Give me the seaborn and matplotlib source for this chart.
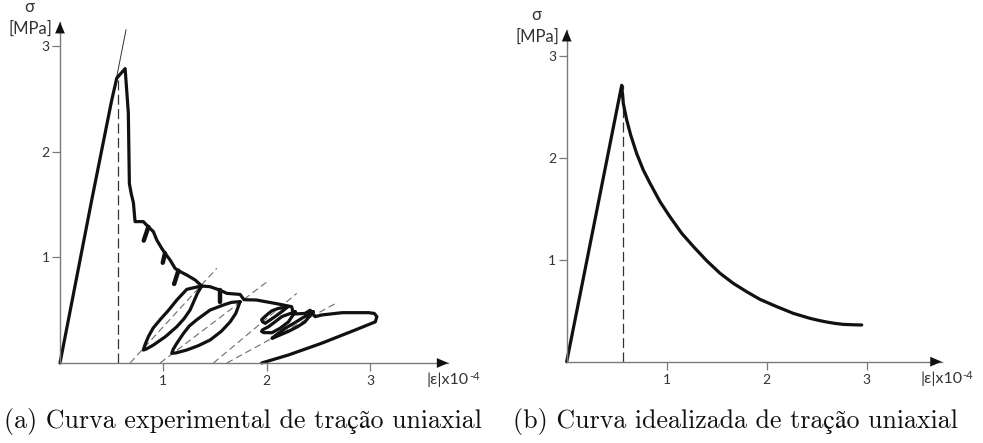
import numpy as np
import matplotlib
matplotlib.use("Agg")
import matplotlib.pyplot as plt
import seaborn as sns

# ---------------- data ----------------
# (a) experimental curve: main envelope path
main_x = [0.0, 0.307, 0.50, 0.549, 0.63, 0.661, 0.671, 0.69, 0.71, 0.726, 0.806, 0.855,
          0.903, 0.936, 0.984, 1.016, 1.065, 1.113, 1.145, 1.226, 1.307, 1.371,
          1.452, 1.549, 1.614, 1.742, 1.78, 1.90, 2.113, 2.24, 2.26, 2.37, 2.42,
          2.468, 2.53, 2.73, 2.985, 3.04, 3.065, 3.05, 2.856, 2.53, 2.21, 1.95]
main_y = [0.0, 1.545, 2.49, 2.70, 2.79, 2.37, 1.70, 1.60, 1.52, 1.34, 1.34, 1.29,
          1.245, 1.166, 1.087, 1.04, 0.976, 0.897, 0.875, 0.834, 0.787, 0.73,
          0.723, 0.69, 0.66, 0.65, 0.60, 0.597, 0.559, 0.534, 0.464, 0.47, 0.50,
          0.439, 0.455, 0.477, 0.477, 0.47, 0.44, 0.39, 0.313, 0.187, 0.076, 0.0]

# small unloading hooks on the softening branch
hook_x0 = [0.855, 1.016, 1.145, 1.549]
hook_y0 = [1.29, 1.04, 0.875, 0.69]
hook_x1 = [0.810, 0.994, 1.104, 1.549]
hook_y1 = [1.16, 0.95, 0.749, 0.58]

# unloading / reloading loops
loop1_x = [1.371, 1.30, 1.226, 1.13, 1.05, 0.968, 0.90, 0.855, 0.823, 0.806, 0.83, 0.903,
           1.02, 1.13, 1.20, 1.258, 1.329, 1.371]
loop1_y = [0.73, 0.715, 0.698, 0.597, 0.50, 0.41, 0.33, 0.25, 0.175, 0.123, 0.13, 0.17,
           0.25, 0.344, 0.42, 0.502, 0.66, 0.73]
loop2_x = [1.742, 1.66, 1.581, 1.452, 1.323, 1.25, 1.194, 1.13, 1.095, 1.081, 1.12, 1.226,
           1.34, 1.452, 1.56, 1.646, 1.70, 1.742]
loop2_y = [0.581, 0.575, 0.55, 0.502, 0.41, 0.35, 0.28, 0.187, 0.13, 0.092, 0.095, 0.123,
           0.165, 0.218, 0.30, 0.39, 0.47, 0.581]
loopA_x = [2.20, 2.11, 2.05, 2.017, 1.97, 1.95, 1.96, 1.985, 2.08, 2.15, 2.20]
loopA_y = [0.53, 0.517, 0.495, 0.47, 0.43, 0.41, 0.39, 0.376, 0.44, 0.49, 0.53]
loopB_x = [2.275, 2.146, 2.08, 2.017, 1.96, 1.95, 1.97, 2.05, 2.13, 2.21, 2.275]
loopB_y = [0.486, 0.44, 0.39, 0.344, 0.315, 0.30, 0.288, 0.287, 0.33, 0.39, 0.486]
loopC_x = [2.45, 2.34, 2.26, 2.178, 2.09, 2.05, 2.08, 2.21, 2.30, 2.37, 2.45]
loopC_y = [0.486, 0.424, 0.375, 0.329, 0.265, 0.234, 0.245, 0.30, 0.345, 0.39, 0.486]

# dashed unloading lines (start on the strain axis, end up-right)
dash_x0 = [0.678, 0.968, 1.484, 1.614]
dash_x1 = [1.517, 2.026, 2.29, 2.68]
dash_y1 = [0.898, 0.787, 0.66, 0.572]

# thin elastic tangent and peak marker
tangent_x = [0.53, 0.639]
tangent_y = [2.62, 3.16]
peak_strain_a = 0.558
peak_stress_a = 2.68

# (b) idealised curve
ideal_x = [0.0, 0.183, 0.55, 0.566, 0.60, 0.64, 0.70, 0.766, 0.833, 0.933, 1.033,
           1.15, 1.266, 1.40, 1.533, 1.666, 1.80, 1.933, 2.10, 2.266, 2.433,
           2.52, 2.60, 2.68, 2.766, 2.86, 2.95]
ideal_y = [0.0, 0.90, 2.71, 2.533, 2.37, 2.222, 2.04, 1.879, 1.75, 1.569, 1.42,
           1.259, 1.13, 0.99, 0.867, 0.768, 0.686, 0.611, 0.54, 0.474, 0.425,
           0.405, 0.389, 0.376, 0.366, 0.362, 0.36]
peak_strain_b = 0.56
peak_stress_b = 2.71

ticks = [1, 2, 3]
tick_labels = ["1", "2", "3"]
captions = ["(a) Curva experimental de tração uniaxial",
            "(b) Curva idealizada de tração uniaxial"]

# ---------------- style ----------------
sns.set_style("white")
plt.rcParams["font.family"] = ["Lato", "Open Sans", "DejaVu Sans"]

W, H = 983, 443
fig = plt.figure(figsize=(W / 100, H / 100), dpi=100)

AX_GRAY = "#7a7a7a"
INK = "#111111"
LAB = "#333333"
sans = ["Lato", "Open Sans", "DejaVu Sans"]


def setup_axis(ax, xmax, ymax):
    ax.set_xlim(0, xmax)
    ax.set_ylim(0, ymax)
    for s in ["top", "right"]:
        ax.spines[s].set_visible(False)
    for s in ["left", "bottom"]:
        ax.spines[s].set_color(AX_GRAY)
        ax.spines[s].set_linewidth(1.0)
    ax.set_xticks(ticks)
    ax.set_xticklabels(tick_labels)
    ax.set_yticks(ticks)
    ax.set_yticklabels(tick_labels)
    ax.tick_params(axis="both", direction="out", length=6, width=0.9,
                   color=AX_GRAY, labelcolor=LAB, labelsize=10,
                   bottom=True, left=True, top=False, right=False)
    ax.tick_params(axis="x", pad=2.5)
    ax.tick_params(axis="y", pad=1.5)
    ax.set_xlabel("")
    ax.set_ylabel("")
    ax.patch.set_alpha(0)
    # arrow heads
    ap = dict(arrowstyle="-|>,head_length=0.75,head_width=0.32", color=INK,
              lw=0, mutation_scale=11, shrinkA=0, shrinkB=0)
    ax.annotate("", xy=(1, 0), xytext=(0.97, 0), xycoords="axes fraction",
                arrowprops=ap, annotation_clip=False)
    ax.annotate("", xy=(0, 1), xytext=(0, 0.97), xycoords="axes fraction",
                arrowprops=ap, annotation_clip=False)
    # y label
    ax.annotate("[MPa]", xy=(0, 1), xycoords="axes fraction",
                xytext=(-21, -4.5), textcoords="offset points",
                ha="center", va="center", fontsize=12, color=LAB, family=sans)
    ax.annotate("σ", xy=(0, 1), xycoords="axes fraction",
                xytext=(-22, 10.5), textcoords="offset points",
                ha="center", va="center", fontsize=12, color=LAB, family=sans)
    # x label with superscript
    t = ax.annotate("|ε|x10", xy=(1, 0), xycoords="axes fraction",
                    xytext=(-15.5, -12), textcoords="offset points",
                    ha="left", va="center", fontsize=11.5, color=LAB, family=sans)
    ax.annotate("-4", xy=(1, 1), xycoords=t, xytext=(0.3, 1.0),
                textcoords="offset points", ha="left", va="top",
                fontsize=8, color=LAB, family=sans)


lw_thick = 2.3

# ---------------- (a) ----------------
ax1 = fig.add_axes([60 / W, (H - 363) / H, 388.3 / W, 341 / H])
setup_axis(ax1, 3.756, 3.232)

for x0, x1, y1 in zip(dash_x0, dash_x1, dash_y1):
    sns.lineplot(x=[x0, x1], y=[0, y1], ax=ax1, color="#6d6d6d", lw=0.8,
                 linestyle=(0, (6, 3.5)), sort=False, estimator=None)
sns.lineplot(x=[peak_strain_a, peak_strain_a], y=[0, peak_stress_a], ax=ax1,
             color="#333333", lw=0.9, linestyle=(0, (8, 3.5)), sort=False, estimator=None)
sns.lineplot(x=tangent_x, y=tangent_y, ax=ax1, color="#333333", lw=0.7,
             sort=False, estimator=None)

for lx, ly in [(loop1_x, loop1_y), (loop2_x, loop2_y), (loopA_x, loopA_y),
               (loopB_x, loopB_y), (loopC_x, loopC_y)]:
    sns.lineplot(x=lx, y=ly, ax=ax1, color=INK, lw=lw_thick, sort=False,
                 estimator=None, solid_joinstyle="round", solid_capstyle="round")
for x0, y0, x1, y1 in zip(hook_x0, hook_y0, hook_x1, hook_y1):
    sns.lineplot(x=[x0, x1], y=[y0, y1], ax=ax1, color=INK, lw=3.2, sort=False,
                 estimator=None, solid_capstyle="round")
sns.lineplot(x=main_x, y=main_y, ax=ax1, color=INK, lw=lw_thick, sort=False,
             estimator=None, solid_joinstyle="round", solid_capstyle="round")

# ---------------- (b) ----------------
ax2 = fig.add_axes([566.7 / W, (H - 361.7) / H, 375 / W, 331.7 / H])
setup_axis(ax2, 3.75, 3.252)
sns.lineplot(x=[peak_strain_b, peak_strain_b], y=[0, peak_stress_b], ax=ax2,
             color="#333333", lw=0.9, linestyle=(0, (8, 3.5)), sort=False, estimator=None)
sns.lineplot(x=ideal_x, y=ideal_y, ax=ax2, color=INK, lw=lw_thick, sort=False,
             estimator=None, solid_joinstyle="round", solid_capstyle="round")

for ax in (ax1, ax2):
    for ln in ax.get_lines():
        ln.set_clip_on(False)
    if ax.get_legend():
        ax.get_legend().remove()

# ---------------- captions ----------------
serif = ["cmr10", "STIXGeneral", "DejaVu Serif"]
fig.text(482 / W, 15 / H, captions[0], ha="right", va="baseline",
         fontsize=18.7, family=serif, color="#111111")
fig.text(513 / W, 15 / H, captions[1], ha="left", va="baseline",
         fontsize=18.7, family=serif, color="#111111")

fig.savefig("out.png", dpi=100)
